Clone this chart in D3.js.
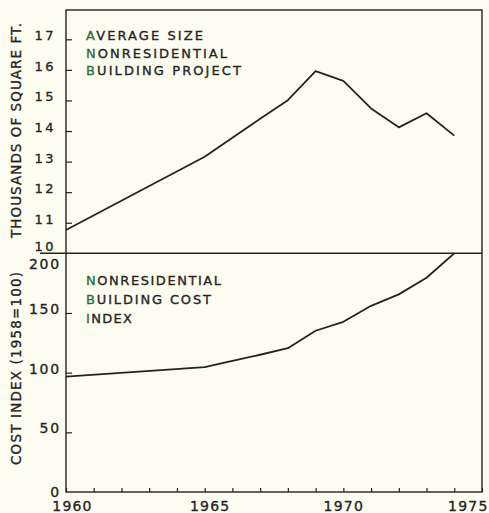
<!DOCTYPE html>
<html>
<head>
<meta charset="utf-8">
<script src="https://cdn.jsdelivr.net/npm/d3@7"></script>
<style>
  html, body { margin: 0; padding: 0; background: #fcfcf0; }
  svg { display: block; }
  text { font-family: "DejaVu Sans", sans-serif; fill: #26261f; stroke: currentColor; stroke-width: 0.35px; }
</style>
</head>
<body>
<svg id="chart" width="489" height="513" style="color:#26261f"></svg>
<script>
// Average size of a nonresidential building project, thousands of sq ft
const sizeYears  = [1960, 1965, 1966, 1967, 1968, 1969, 1970, 1971, 1972, 1973, 1974];
const sizeValues = [10.76, 13.16, 13.78, 14.40, 15.01, 15.96, 15.64, 14.74, 14.12, 14.58, 13.85];

// Nonresidential building cost index (1958 = 100)
const costYears  = [1960, 1965, 1966, 1967, 1968, 1969, 1970, 1971, 1972, 1973, 1974];
const costValues = [96.6, 104.6, 109.8, 115.0, 120.5, 135.1, 142.6, 156.0, 165.6, 179.5, 200.0];

const yearTicks   = [1960, 1965, 1970, 1975];
const sizeTicks   = [10, 11, 12, 13, 14, 15, 16, 17];
const costTicks   = [0, 50, 100, 150, 200];

const sizeTitle = ["AVERAGE SIZE", "NONRESIDENTIAL", "BUILDING PROJECT"];
const costTitle = ["NONRESIDENTIAL", "BUILDING COST", "INDEX"];
const sizeAxisTitle = "THOUSANDS OF SQUARE FT.";
const costAxisTitle = "COST INDEX (1958=100)";

const ink = "#24241f";
const green = "#2f6e3c";

const svg = d3.select("#chart");

const plotLeft = 66, plotRight = 482, plotTop = 10, plotMid = 253.3, plotBottom = 492;

const x = d3.scaleLinear().domain([1960, 1975]).range([plotLeft, plotRight]);
const ySize = d3.scaleLinear().domain([10, 17]).range([plotMid, 39.3]);
const yCost = d3.scaleLinear().domain([0, 200]).range([plotBottom, plotMid]);

// Frame and panel divider
svg.append("rect")
  .attr("x", plotLeft).attr("y", plotTop)
  .attr("width", plotRight - plotLeft).attr("height", plotBottom - plotTop)
  .attr("fill", "none").attr("stroke", ink).attr("stroke-width", 1.4);
svg.append("line")
  .attr("x1", 40).attr("x2", plotRight)
  .attr("y1", plotMid).attr("y2", plotMid)
  .attr("stroke", ink).attr("stroke-width", 1.4);

// Bottom year axis: ticks every year pointing inward
const xAxis = d3.axisBottom(x)
  .tickValues(d3.range(1960, 1976))
  .tickSizeInner(-4).tickSizeOuter(0)
  .tickFormat(d => yearTicks.includes(d) ? String(d) : "");
const gx = svg.append("g").attr("transform", `translate(0,${plotBottom})`).call(xAxis);
gx.select(".domain").remove();
gx.selectAll(".tick line").attr("stroke", ink).attr("stroke-width", 1.2);
gx.selectAll(".tick text")
  .attr("y", 19).attr("dy", 0)
  .attr("dx", d => d === 1960 ? 6 : (d === 1965 ? 5 : 0))
  .style("font-size", "14px").style("letter-spacing", "1.2px")
  .attr("fill", ink);
// last year label kept inside the page edge
gx.selectAll(".tick text").filter(d => d === 1975)
  .attr("text-anchor", "end").attr("x", 488 - plotRight).attr("dx", 0);

// Left axes: inward ticks, labels sitting on the tick level
function leftAxis(scale, ticks, labelX, size, spacing) {
  const ax = d3.axisLeft(scale).tickValues(ticks)
    .tickFormat(d3.format("d"))
    .tickSizeInner(-6).tickSizeOuter(0);
  const g = svg.append("g").attr("transform", `translate(${plotLeft},0)`).call(ax);
  g.select(".domain").remove();
  g.selectAll(".tick line").attr("stroke", ink).attr("stroke-width", 1.2);
  g.selectAll(".tick text")
    .attr("x", labelX - plotLeft).attr("dy", 0).attr("y", 0.5)
    .style("font-size", size).style("letter-spacing", spacing)
    .attr("fill", ink);
  return g;
}
const gSize = leftAxis(ySize, sizeTicks, 56, "13px", "2.5px");
gSize.selectAll(".tick").filter(d => d === 10).select("line").remove();
gSize.selectAll(".tick").filter(d => d === 10).select("text").attr("y", -3);
const gCost = leftAxis(yCost, costTicks, 61, "14px", "1.8px");
gCost.selectAll(".tick").filter(d => d === 0 || d === 200).select("line").remove();
gCost.selectAll(".tick").filter(d => d === 200).select("text").attr("y", 15);
gCost.selectAll(".tick").filter(d => d === 0).select("text").attr("y", 4);

// Rotated axis titles
svg.append("text")
  .attr("transform", `translate(21,${(238 + 23) / 2}) rotate(-90)`)
  .attr("text-anchor", "middle")
  .attr("textLength", 215).attr("lengthAdjust", "spacing")
  .style("font-size", "13.5px")
  .text(sizeAxisTitle);
svg.append("text")
  .attr("transform", `translate(21,${(465 + 272) / 2}) rotate(-90)`)
  .attr("text-anchor", "middle")
  .attr("textLength", 193).attr("lengthAdjust", "spacing")
  .style("font-size", "13.5px")
  .text(costAxisTitle);

// Panel captions with a green initial letter
function caption(lines, x0, y0, step, widths) {
  lines.forEach((s, i) => {
    const t = svg.append("text")
      .attr("x", x0).attr("y", y0 + i * step)
      .attr("textLength", widths[i]).attr("lengthAdjust", "spacing")
      .style("font-size", "13px");
    t.append("tspan").attr("fill", green).style("color", green).text(s[0]);
    t.append("tspan").text(s.slice(1));
  });
}
caption(sizeTitle, 86, 40, 17.6, [117, 141, 155]);
caption(costTitle, 86, 285, 19, [135, 125, 46]);

// Data lines
const sizeLine = d3.line().x((d, i) => x(sizeYears[i])).y(d => ySize(d));
const costLine = d3.line().x((d, i) => x(costYears[i])).y(d => yCost(d));

svg.append("path").datum(sizeValues)
  .attr("d", sizeLine)
  .attr("fill", "none").attr("stroke", ink).attr("stroke-width", 1.8)
  .attr("stroke-linejoin", "round");
svg.append("path").datum(costValues)
  .attr("d", costLine)
  .attr("fill", "none").attr("stroke", ink).attr("stroke-width", 1.8)
  .attr("stroke-linejoin", "round");
</script>
</body>
</html>
